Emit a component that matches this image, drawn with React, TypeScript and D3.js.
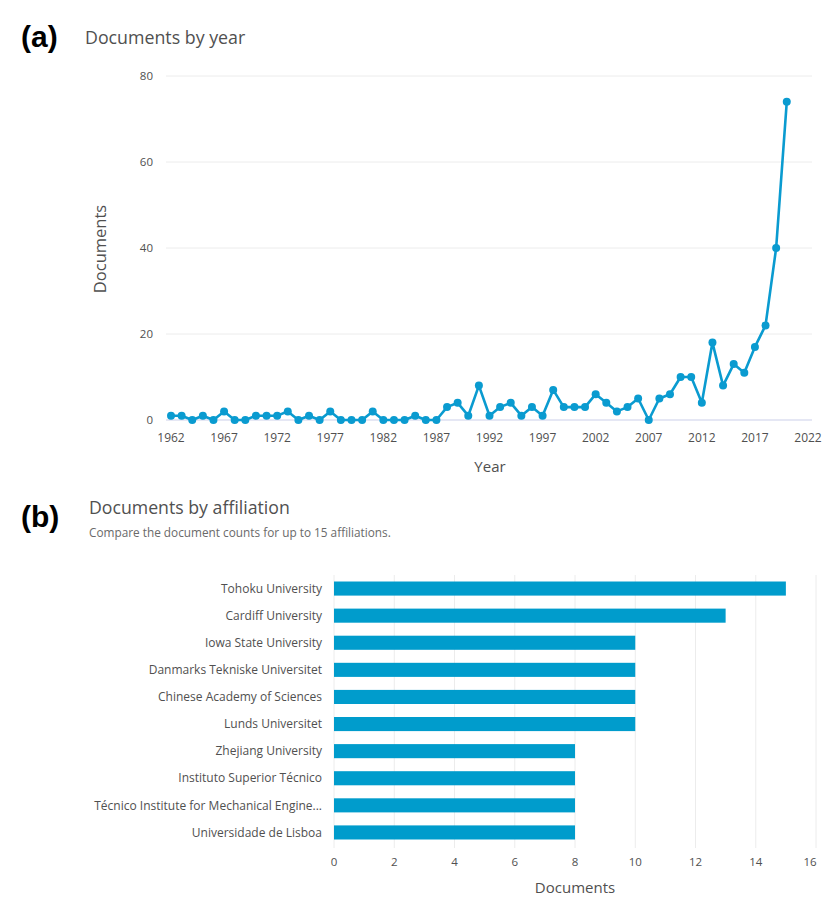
import { useEffect } from "react"
import * as d3 from "d3"

const YEARS = d3.range(1962, 2021)
const DOCS_BY_YEAR = [
  1, 1, 0, 1, 0, 2, 0, 0,
  1, 1, 1, 2, 0, 1, 0, 2, 0, 0,
  0, 2, 0, 0, 0, 1, 0, 0, 3, 4,
  1, 8, 1, 3, 4, 1, 3, 1, 7, 3,
  3, 3, 6, 4, 2, 3, 5, 0, 5, 6,
  10, 10, 4, 18, 8, 13, 11, 17, 22, 40, 74,
]
const YEAR_TICKS = [1962, 1967, 1972, 1977, 1982, 1987, 1992, 1997, 2002, 2007, 2012, 2017, 2022]
const DOC_TICKS = [0, 20, 40, 60, 80]

const AFFILIATIONS = [
  "Tohoku University",
  "Cardiff University",
  "Iowa State University",
  "Danmarks Tekniske Universitet",
  "Chinese Academy of Sciences",
  "Lunds Universitet",
  "Zhejiang University",
  "Instituto Superior Técnico",
  "Técnico Institute for Mechanical Engine...",
  "Universidade de Lisboa",
]
const AFF_DOCS = [15, 13, 10, 10, 10, 10, 8, 8, 8, 8]
const AFF_TICKS = [0, 2, 4, 6, 8, 10, 12, 14, 16]

const FONT = "'Open Sans', 'Noto Sans', sans-serif"
const LINE_BLUE = "#0a9bd0"
const BAR_BLUE = "#009ccc"
const GRID = "#ececec"
const TEXT = "#505050"

export default function App() {
  useEffect(() => {
    document.body.style.margin = "0"
  }, [])

  // line chart scales
  const x = d3.scaleLinear().domain([1962, 2022]).range([171, 808])
  const y = d3.scaleLinear().domain([0, 80]).range([420, 76])
  const pts = YEARS.map((yr, i) => [yr, DOCS_BY_YEAR[i]] as [number, number])
  const line = d3.line<[number, number]>().x((d) => x(d[0])).y((d) => y(d[1]))

  // bar chart scales
  const bx = d3.scaleLinear().domain([0, 16]).range([334, 816])
  const by = d3.scaleBand<string>().domain(AFFILIATIONS).range([575, 846]).paddingInner(0.48).paddingOuter(0.24)

  return (
    <svg width={835} height={911} style={{ display: "block", fontFamily: FONT }}>
      <rect width={835} height={911} fill="#fff" />

      {/* (a) */}
      <text x={21} y={47} fontFamily="Arial, 'Liberation Sans', sans-serif" fontWeight="bold" fontSize={30} fill="#000">(a)</text>
      <text x={85} y={44} fontSize={17.8} fill={TEXT}>Documents by year</text>

      {DOC_TICKS.map((t) => (
        <g key={t}>
          <line x1={166} x2={812} y1={y(t)} y2={y(t)} stroke={t === 0 ? "#dcdff0" : GRID} strokeWidth={t === 0 ? 1.5 : 1} />
          <text x={153} y={y(t)} dy="0.35em" textAnchor="end" fontSize={11.5} fill={TEXT}>{t}</text>
        </g>
      ))}
      {YEAR_TICKS.map((t) => (
        <text key={t} x={x(t)} y={442} textAnchor="middle" fontSize={12} fill={TEXT}>{t}</text>
      ))}
      <text x={490} y={472} textAnchor="middle" fontSize={15} fill={TEXT}>Year</text>
      <text transform={`translate(106,249) rotate(-90)`} textAnchor="middle" fontSize={16.5} fill={TEXT}>Documents</text>

      <path d={line(pts) ?? ""} fill="none" stroke={LINE_BLUE} strokeWidth={2.6} strokeLinejoin="round" />
      {pts.map((d) => (
        <circle key={d[0]} cx={x(d[0])} cy={y(d[1])} r={4} fill={LINE_BLUE} />
      ))}

      {/* (b) */}
      <text x={21} y={527} fontFamily="Arial, 'Liberation Sans', sans-serif" fontWeight="bold" fontSize={30} fill="#000">(b)</text>
      <text x={89} y={514} fontSize={17.7} fill={TEXT}>Documents by affiliation</text>
      <text x={89} y={537} fontSize={11.8} fill="#6a6a6a">Compare the document counts for up to 15 affiliations.</text>

      {AFF_TICKS.map((t) => (
        <g key={t}>
          <line x1={bx(t)} x2={bx(t)} y1={575} y2={848} stroke={GRID} strokeWidth={1} />
          <text x={Math.min(bx(t), 810)} y={866} textAnchor="middle" fontSize={11.5} fill={TEXT}>{t}</text>
        </g>
      ))}
      {AFFILIATIONS.map((a, i) => (
        <g key={a}>
          <rect x={bx(0)} y={by(a)} width={bx(AFF_DOCS[i]) - bx(0)} height={by.bandwidth()} fill={BAR_BLUE} />
          <text x={322} y={(by(a) ?? 0) + by.bandwidth() / 2} dy="0.35em" textAnchor="end" fontSize={12} fill={TEXT}>{a}</text>
        </g>
      ))}
      <text x={575} y={893} textAnchor="middle" fontSize={15} fill={TEXT}>Documents</text>
    </svg>
  )
}
